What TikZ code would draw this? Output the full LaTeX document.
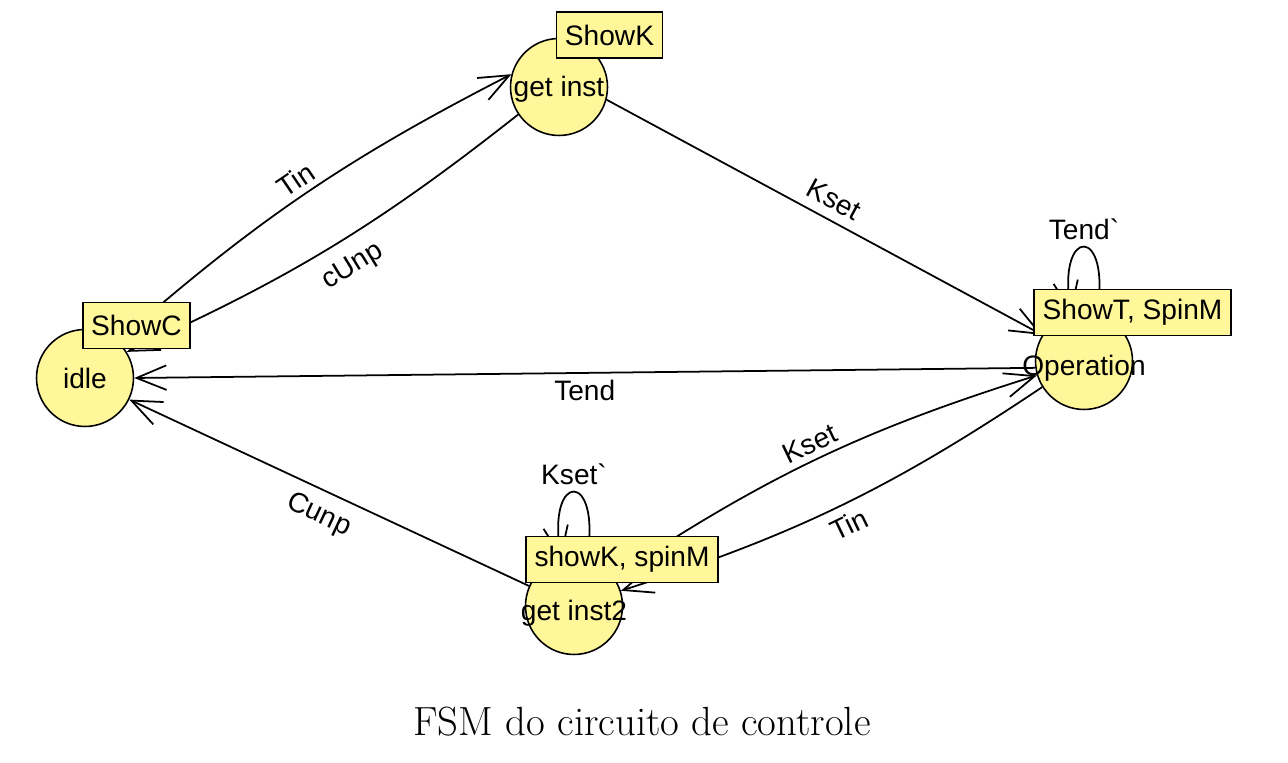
\documentclass[tikz,border=0pt]{standalone}
\usepackage{fontspec}
\newfontfamily\arialfont{Liberation Sans}
\usepackage{tikz}
\usetikzlibrary{arrows.meta,positioning}
\definecolor{stateyellow}{RGB}{255,247,153}
\tikzset{%
	state/.style  = {draw, circle, fill=stateyellow, minimum size=1.94cm, inner sep=0pt, line width=0.9pt},
	outbox/.style = {draw, rectangle, fill=stateyellow, minimum height=0.92cm, inner xsep=0.17cm, line width=1pt, font=\arialfont\fontsize{16}{18}\selectfont},
	trans/.style  = {line width=1pt, -{Straight Barb[length=17pt,width=14pt]}},
	lbl/.style    = {font=\arialfont\fontsize{16}{18}\selectfont},
}

\begin{document}
\begin{tikzpicture}[x=0.02cm,y=0.02cm]
	\useasboundingbox (0,0) rectangle (1288,763);
	% states
	\node[state, label={[lbl]center:idle}] (idle) at (85,385) {};
	\node[state, label={[lbl,yshift=-1.5pt]center:get inst}] (gi) at (559,676) {};
	\node[state, label={[lbl,yshift=-4pt]center:Operation}] (op) at (1084,402) {};
	\node[state, label={[lbl,yshift=-4pt]center:get inst2}] (gi2) at (574,157) {};
	% transitions
	\draw[trans] (idle.48) to[bend left=7] node[lbl, sloped, above, pos=0.5] {Tin} (gi.165);
	\draw[trans] (gi.214) to[bend left=7] node[lbl, sloped, below=5pt, pos=0.48] {cUnp} (idle.32);
	\draw[trans] (gi.345) -- node[lbl, sloped, above=2pt, pos=0.5] {Kset} (op.148);
	\draw[trans] (op.188) -- node[lbl, below, pos=0.5] {Tend} (idle.0);
	\draw[trans] (op.75) .. controls +(80:90) and +(100:90) .. node[lbl, above] {Tend\symbol{96}} (op.105);
	\draw[trans] (gi2.156) -- node[lbl, sloped, below=3pt, pos=0.5] {Cunp} (idle.334);
	\draw[trans] (gi2.36) to[bend left=8] node[lbl, sloped, above, pos=0.5] {Kset} (op.197);
	\draw[trans] (op.212) to[bend left=8] node[lbl, sloped, below=2pt, pos=0.5] {Tin} (gi2.18);
	\draw[trans] (gi2.75) .. controls +(80:90) and +(100:90) .. node[lbl, above] {Kset\symbol{96}} (gi2.105);
	% outputs
	\node[outbox] (idleout) at (136.5,437.5) {ShowC};
	\node[outbox] (giout) at (609.5,728) {ShowK};
	\node[outbox] (opout) at (1132.5,450.5) {ShowT, SpinM};
	\node[outbox] (gi2out) at (622,203.5) {showK, spinM};
	\node[font=\fontsize{23.2}{28}\selectfont] (caption) at (642,41) {FSM do circuito de controle};
\end{tikzpicture}
\end{document}
